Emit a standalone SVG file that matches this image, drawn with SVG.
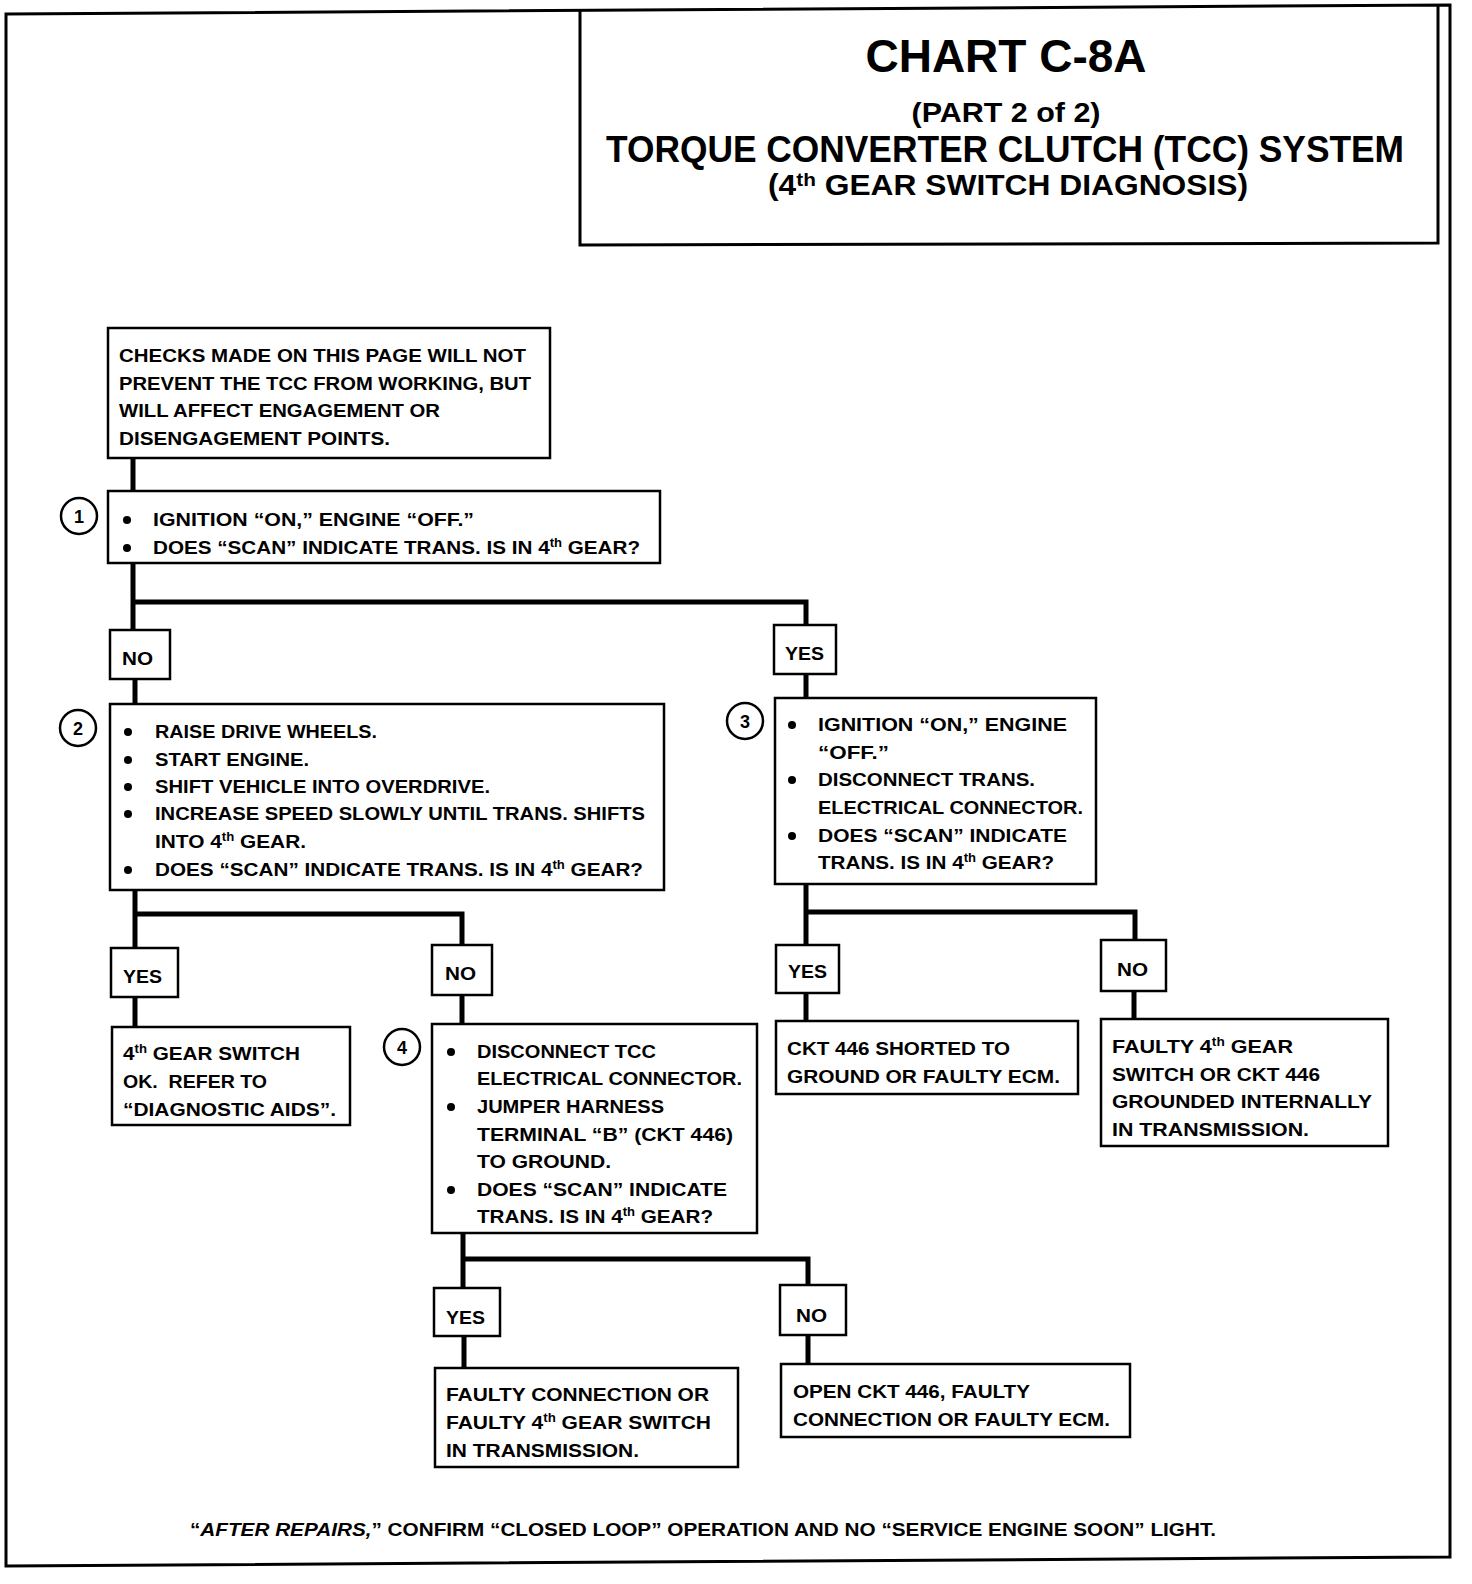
<svg xmlns="http://www.w3.org/2000/svg" width="1472" height="1584" viewBox="0 0 1472 1584">
<style>
.b{fill:#fff;stroke:#000;stroke-width:2.5}
.t{font-family:"Liberation Sans",Arial,sans-serif;font-weight:bold;font-size:19px;fill:#000}
.lb{font-family:"Liberation Sans",Arial,sans-serif;font-weight:bold;font-size:19px;fill:#000}
.c{fill:#fff;stroke:#000;stroke-width:2.5}
.cn{font-family:"Liberation Sans",Arial,sans-serif;font-weight:bold;font-size:18px;fill:#000;text-anchor:middle}
.ttl{font-family:"Liberation Sans",Arial,sans-serif;font-weight:bold;fill:#000;text-anchor:middle}
.w{fill:none;stroke:#000;stroke-width:5}
.s{font-size:12px}
</style>
<rect width="1472" height="1584" fill="#fff"/>
<polygon points="6,14 1450,5 1450,1557 6,1566" fill="none" stroke="#000" stroke-width="3"/>
<g id="title">
<polyline points="580,10 580,245 1438,243 1438,6" fill="none" stroke="#000" stroke-width="3"/>
<text class="ttl" x="1006" y="72" font-size="46" textLength="281" lengthAdjust="spacingAndGlyphs">CHART C-8A</text>
<text class="ttl" x="1006" y="122" font-size="28" textLength="189" lengthAdjust="spacingAndGlyphs">(PART 2 of 2)</text>
<text class="ttl" x="1005" y="162" font-size="36" textLength="798" lengthAdjust="spacingAndGlyphs">TORQUE CONVERTER CLUTCH (TCC) SYSTEM</text>
<text class="ttl" x="1008" y="195" font-size="29" textLength="480" lengthAdjust="spacingAndGlyphs">(4<tspan font-size="19" dy="-9">th</tspan><tspan dy="9"> GEAR SWITCH DIAGNOSIS)</tspan></text>
</g>
<g id="connectors">
<polyline class="w" points="133,458 133,491"/>
<polyline class="w" points="133,563 133,630"/>
<polyline class="w" points="133,602 806,602 806,625"/>
<polyline class="w" points="135,679 135,705"/>
<polyline class="w" points="806,674 806,699"/>
<polyline class="w" points="135,890 135,948"/>
<polyline class="w" points="135,914 462,914 462,945"/>
<polyline class="w" points="135,997 135,1027"/>
<polyline class="w" points="462,995 462,1024"/>
<polyline class="w" points="806,884 806,945"/>
<polyline class="w" points="806,912 1135,912 1135,940"/>
<polyline class="w" points="806,993 806,1021"/>
<polyline class="w" points="1134,991 1134,1019"/>
<polyline class="w" points="463,1233 463,1288"/>
<polyline class="w" points="463,1259 808,1259 808,1285"/>
<polyline class="w" points="464,1336 464,1368"/>
<polyline class="w" points="808,1335 808,1365"/>
</g>
<g id="intro">
<rect class="b" x="108" y="328" width="442" height="130"/>
<text class="t" x="119" y="362" textLength="407" lengthAdjust="spacingAndGlyphs">CHECKS MADE ON THIS PAGE WILL NOT</text>
<text class="t" x="119" y="390" textLength="412" lengthAdjust="spacingAndGlyphs">PREVENT THE TCC FROM WORKING, BUT</text>
<text class="t" x="119" y="417" textLength="321" lengthAdjust="spacingAndGlyphs">WILL AFFECT ENGAGEMENT OR</text>
<text class="t" x="119" y="445" textLength="271" lengthAdjust="spacingAndGlyphs">DISENGAGEMENT POINTS.</text>
</g>
<g id="step1">
<rect class="b" x="108" y="491" width="552" height="72"/>
<circle class="c" cx="79" cy="516" r="18"/>
<text class="cn" x="79" y="523">1</text>
<circle cx="127" cy="520" r="4"/>
<circle cx="127" cy="548" r="4"/>
<text class="t" x="153" y="526" textLength="321" lengthAdjust="spacingAndGlyphs">IGNITION “ON,” ENGINE “OFF.”</text>
<text class="t" x="153" y="554" textLength="487" lengthAdjust="spacingAndGlyphs">DOES “SCAN” INDICATE TRANS. IS IN 4<tspan class="s" dy="-7">th</tspan><tspan dy="7"> GEAR?</tspan></text>
</g>
<g id="no1">
<rect class="b" x="110" y="630" width="60" height="49"/>
<text class="lb" x="122" y="665" textLength="31" lengthAdjust="spacingAndGlyphs">NO</text>
</g>
<g id="yes1">
<rect class="b" x="774" y="625" width="62" height="49"/>
<text class="lb" x="785" y="660" textLength="39" lengthAdjust="spacingAndGlyphs">YES</text>
</g>
<g id="step2">
<rect class="b" x="110" y="704" width="554" height="186"/>
<circle class="c" cx="78" cy="728" r="18"/>
<text class="cn" x="78" y="735">2</text>
<circle cx="128" cy="732" r="4"/>
<circle cx="128" cy="760" r="4"/>
<circle cx="128" cy="787" r="4"/>
<circle cx="128" cy="814" r="4"/>
<circle cx="128" cy="870" r="4"/>
<text class="t" x="155" y="738" textLength="222" lengthAdjust="spacingAndGlyphs">RAISE DRIVE WHEELS.</text>
<text class="t" x="155" y="766" textLength="154" lengthAdjust="spacingAndGlyphs">START ENGINE.</text>
<text class="t" x="155" y="793" textLength="335" lengthAdjust="spacingAndGlyphs">SHIFT VEHICLE INTO OVERDRIVE.</text>
<text class="t" x="155" y="820" textLength="490" lengthAdjust="spacingAndGlyphs">INCREASE SPEED SLOWLY UNTIL TRANS. SHIFTS</text>
<text class="t" x="155" y="848" textLength="151" lengthAdjust="spacingAndGlyphs">INTO 4<tspan class="s" dy="-7">th</tspan><tspan dy="7"> GEAR.</tspan></text>
<text class="t" x="155" y="876" textLength="488" lengthAdjust="spacingAndGlyphs">DOES “SCAN” INDICATE TRANS. IS IN 4<tspan class="s" dy="-7">th</tspan><tspan dy="7"> GEAR?</tspan></text>
</g>
<g id="step3">
<rect class="b" x="775" y="698" width="321" height="186"/>
<circle class="c" cx="745" cy="721" r="18"/>
<text class="cn" x="745" y="728">3</text>
<circle cx="792" cy="725" r="4"/>
<circle cx="792" cy="780" r="4"/>
<circle cx="792" cy="836" r="4"/>
<text class="t" x="818" y="731" textLength="249" lengthAdjust="spacingAndGlyphs">IGNITION “ON,” ENGINE</text>
<text class="t" x="818" y="759" textLength="71" lengthAdjust="spacingAndGlyphs">“OFF.”</text>
<text class="t" x="818" y="786" textLength="217" lengthAdjust="spacingAndGlyphs">DISCONNECT TRANS.</text>
<text class="t" x="818" y="814" textLength="265" lengthAdjust="spacingAndGlyphs">ELECTRICAL CONNECTOR.</text>
<text class="t" x="818" y="842" textLength="249" lengthAdjust="spacingAndGlyphs">DOES “SCAN” INDICATE</text>
<text class="t" x="818" y="869" textLength="236" lengthAdjust="spacingAndGlyphs">TRANS. IS IN 4<tspan class="s" dy="-7">th</tspan><tspan dy="7"> GEAR?</tspan></text>
</g>
<g id="yes2">
<rect class="b" x="111" y="948" width="67" height="49"/>
<text class="lb" x="123" y="983" textLength="39" lengthAdjust="spacingAndGlyphs">YES</text>
</g>
<g id="no2">
<rect class="b" x="432" y="945" width="60" height="50"/>
<text class="lb" x="445" y="980" textLength="31" lengthAdjust="spacingAndGlyphs">NO</text>
</g>
<g id="leafOK">
<rect class="b" x="112" y="1027" width="238" height="98"/>
<text class="t" x="123" y="1060" textLength="177" lengthAdjust="spacingAndGlyphs">4<tspan class="s" dy="-7">th</tspan><tspan dy="7"> GEAR SWITCH</tspan></text>
<text class="t" x="123" y="1088" textLength="144" lengthAdjust="spacingAndGlyphs" xml:space="preserve">OK.  REFER TO</text>
<text class="t" x="123" y="1116" textLength="213" lengthAdjust="spacingAndGlyphs">“DIAGNOSTIC AIDS”.</text>
</g>
<g id="step4">
<rect class="b" x="432" y="1024" width="325" height="209"/>
<circle class="c" cx="402" cy="1047" r="18"/>
<text class="cn" x="402" y="1054">4</text>
<circle cx="451" cy="1052" r="4"/>
<circle cx="451" cy="1107" r="4"/>
<circle cx="451" cy="1190" r="4"/>
<text class="t" x="477" y="1058" textLength="179" lengthAdjust="spacingAndGlyphs">DISCONNECT TCC</text>
<text class="t" x="477" y="1085" textLength="265" lengthAdjust="spacingAndGlyphs">ELECTRICAL CONNECTOR.</text>
<text class="t" x="477" y="1113" textLength="187" lengthAdjust="spacingAndGlyphs">JUMPER HARNESS</text>
<text class="t" x="477" y="1141" textLength="256" lengthAdjust="spacingAndGlyphs">TERMINAL “B” (CKT 446)</text>
<text class="t" x="477" y="1168" textLength="134" lengthAdjust="spacingAndGlyphs">TO GROUND.</text>
<text class="t" x="477" y="1196" textLength="250" lengthAdjust="spacingAndGlyphs">DOES “SCAN” INDICATE</text>
<text class="t" x="477" y="1223" textLength="236" lengthAdjust="spacingAndGlyphs">TRANS. IS IN 4<tspan class="s" dy="-7">th</tspan><tspan dy="7"> GEAR?</tspan></text>
</g>
<g id="yes3">
<rect class="b" x="776" y="945" width="63" height="48"/>
<text class="lb" x="788" y="978" textLength="39" lengthAdjust="spacingAndGlyphs">YES</text>
</g>
<g id="no3">
<rect class="b" x="1101" y="940" width="65" height="51"/>
<text class="lb" x="1117" y="976" textLength="31" lengthAdjust="spacingAndGlyphs">NO</text>
</g>
<g id="leafShorted">
<rect class="b" x="776" y="1021" width="302" height="73"/>
<text class="t" x="787" y="1055" textLength="223" lengthAdjust="spacingAndGlyphs">CKT 446 SHORTED TO</text>
<text class="t" x="787" y="1083" textLength="273" lengthAdjust="spacingAndGlyphs">GROUND OR FAULTY ECM.</text>
</g>
<g id="leafFaultySwitch">
<rect class="b" x="1101" y="1019" width="287" height="127"/>
<text class="t" x="1112" y="1053" textLength="181" lengthAdjust="spacingAndGlyphs">FAULTY 4<tspan class="s" dy="-7">th</tspan><tspan dy="7"> GEAR</tspan></text>
<text class="t" x="1112" y="1081" textLength="208" lengthAdjust="spacingAndGlyphs">SWITCH OR CKT 446</text>
<text class="t" x="1112" y="1108" textLength="260" lengthAdjust="spacingAndGlyphs">GROUNDED INTERNALLY</text>
<text class="t" x="1112" y="1136" textLength="197" lengthAdjust="spacingAndGlyphs">IN TRANSMISSION.</text>
</g>
<g id="yes4">
<rect class="b" x="434" y="1288" width="66" height="48"/>
<text class="lb" x="446" y="1324" textLength="39" lengthAdjust="spacingAndGlyphs">YES</text>
</g>
<g id="no4">
<rect class="b" x="780" y="1285" width="66" height="50"/>
<text class="lb" x="796" y="1322" textLength="31" lengthAdjust="spacingAndGlyphs">NO</text>
</g>
<g id="leafConnection">
<rect class="b" x="435" y="1368" width="303" height="99"/>
<text class="t" x="446" y="1401" textLength="263" lengthAdjust="spacingAndGlyphs">FAULTY CONNECTION OR</text>
<text class="t" x="446" y="1429" textLength="265" lengthAdjust="spacingAndGlyphs">FAULTY 4<tspan class="s" dy="-7">th</tspan><tspan dy="7"> GEAR SWITCH</tspan></text>
<text class="t" x="446" y="1457" textLength="193" lengthAdjust="spacingAndGlyphs">IN TRANSMISSION.</text>
</g>
<g id="leafOpen">
<rect class="b" x="781" y="1364" width="349" height="73"/>
<text class="t" x="793" y="1398" textLength="237" lengthAdjust="spacingAndGlyphs">OPEN CKT 446, FAULTY</text>
<text class="t" x="793" y="1426" textLength="317" lengthAdjust="spacingAndGlyphs">CONNECTION OR FAULTY ECM.</text>
</g>
<text class="t" x="190" y="1536" textLength="1026" lengthAdjust="spacingAndGlyphs">“<tspan font-style="italic">AFTER REPAIRS,</tspan>” CONFIRM “CLOSED LOOP” OPERATION AND NO “SERVICE ENGINE SOON” LIGHT.</text>
</svg>
